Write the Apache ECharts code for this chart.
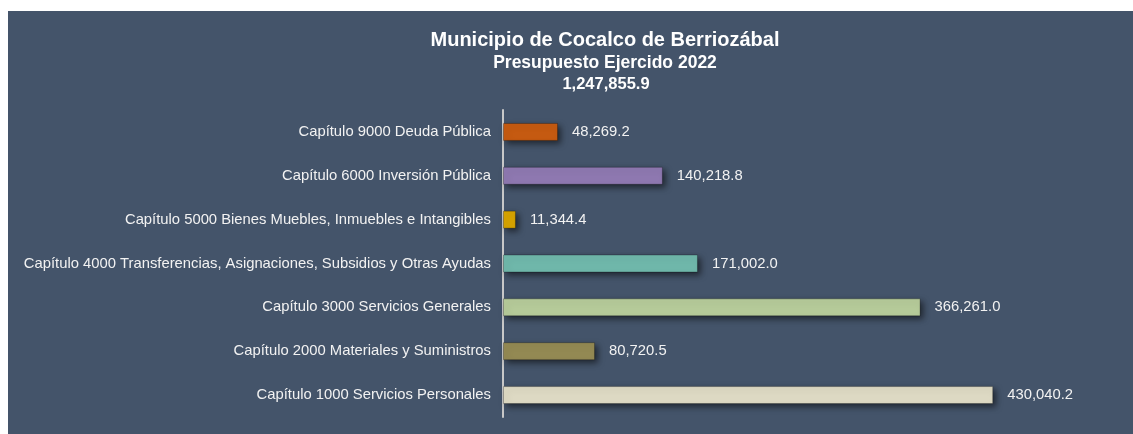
<!DOCTYPE html>
<html>
<head>
<meta charset="utf-8">
<script src="https://cdn.jsdelivr.net/npm/echarts@6/dist/echarts.min.js"></script>
<style>
html,body{margin:0;padding:0;background:#ffffff;}
#chart{position:absolute;left:8px;top:11px;width:1125px;height:423px;}
</style>
</head>
<body>
<div id="chart"></div>
<script>
const categories = [
  'Capítulo 1000 Servicios Personales',
  'Capítulo 2000 Materiales y Suministros',
  'Capítulo 3000 Servicios Generales',
  'Capítulo 4000 Transferencias, Asignaciones, Subsidios y Otras Ayudas',
  'Capítulo 5000 Bienes Muebles, Inmuebles e Intangibles',
  'Capítulo 6000 Inversión Pública',
  'Capítulo 9000 Deuda Pública'
];
const values = [430040.2, 80720.5, 366261.0, 171002.0, 11344.4, 140218.8, 48269.2];
const barColors = ['#ddd9c3', '#938953', '#b5ca99', '#6fb7aa', '#d6a300', '#8e78b0', '#c55a11'];
const titleLines = ['Municipio de Cocalco de Berriozábal', 'Presupuesto Ejercido 2022', '1,247,855.9'];

const fmt = v => v.toLocaleString('en-US', {minimumFractionDigits: 1, maximumFractionDigits: 1});
const FONT = 'Liberation Sans, Arial, sans-serif';

const chart = echarts.init(document.getElementById('chart'));
chart.setOption({
  backgroundColor: '#44546a',
  animation: false,
  title: [
    {text: titleLines[0], left: 597, textAlign: 'center', top: 19, padding: 0,
     textStyle: {color: '#ffffff', fontFamily: FONT, fontSize: 20, fontWeight: 'bold'}},
    {text: titleLines[1], left: 597, textAlign: 'center', top: 43, padding: 0,
     textStyle: {color: '#ffffff', fontFamily: FONT, fontSize: 17.5, fontWeight: 'bold'}},
    {text: titleLines[2], left: 598, textAlign: 'center', top: 65, padding: 0,
     textStyle: {color: '#ffffff', fontFamily: FONT, fontSize: 16.5, fontWeight: 'bold'}}
  ],
  grid: {left: 495, right: 60, top: 99, bottom: 17, containLabel: false},
  xAxis: {
    type: 'value', min: 0, max: 500000, interval: 100000,
    show: false
  },
  yAxis: {
    type: 'category',
    data: categories,
    axisLine: {show: true, lineStyle: {color: '#c8c8c8', width: 2}},
    axisTick: {show: false},
    axisLabel: {color: '#f2f2f2', fontFamily: FONT, fontSize: 14.8, margin: 12}
  },
  series: [{
    type: 'bar',
    data: values.map((v, i) => ({value: v, itemStyle: {color: barColors[i]}})),
    barWidth: '41%',
    itemStyle: {
      borderColor: 'rgba(0,0,0,0.25)', borderWidth: 1,
      shadowColor: 'rgba(0,0,0,0.55)', shadowBlur: 6, shadowOffsetX: 3, shadowOffsetY: 3
    },
    label: {
      show: true, position: 'right', distance: 14,
      color: '#f2f2f2', fontFamily: FONT, fontSize: 14.8,
      formatter: p => fmt(p.value)
    }
  }]
});
</script>
</body>
</html>
